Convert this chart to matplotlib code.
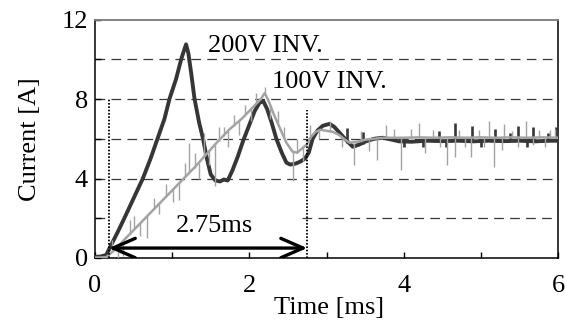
import matplotlib
matplotlib.use('Agg')
import matplotlib.pyplot as plt
from matplotlib.patches import FancyArrowPatch

plt.rcParams['font.family'] = ['Liberation Serif', 'DejaVu Serif']
plt.rcParams['lines.scale_dashes'] = False

# ---------------- data ----------------
x_ticks = [0, 1, 2, 3, 4, 5, 6]
x_tick_labels = ['0', '', '2', '', '4', '', '6']
y_ticks = [0, 2, 4, 6, 8, 10, 12]
y_tick_labels = ['0', '', '4', '', '8', '', '12']
grid_y = [2, 4, 6, 8, 10]

# 200V inverter current (dark trace)
t_200 = [0.00, 0.08, 0.145, 0.20, 0.30, 0.38, 0.50, 0.62, 0.72, 0.81, 0.90, 0.965,
         1.05, 1.117, 1.15, 1.18, 1.21, 1.25, 1.29, 1.35, 1.40, 1.45, 1.50, 1.56,
         1.62, 1.67, 1.72, 1.78, 1.85, 1.92, 2.00, 2.07, 2.13, 2.18, 2.23, 2.29,
         2.35, 2.42, 2.48, 2.53, 2.60, 2.66, 2.72, 2.77, 2.82, 2.88, 2.95, 3.04,
         3.10, 3.17, 3.25, 3.34, 3.42, 3.51, 3.62, 3.73, 3.85, 3.94, 4.10, 4.30,
         4.50, 4.70, 4.90, 5.10, 5.30, 5.50, 5.70, 5.90, 6.00]
i_200 = [0.05, 0.08, 0.15, 0.58, 1.35, 2.0, 3.0, 4.0, 5.0, 6.0, 7.0, 8.0,
         9.0, 10.0, 10.4, 10.75, 10.3, 9.2, 8.0, 6.8, 6.0, 5.0, 4.2, 3.9,
         3.85, 3.95, 3.9, 4.4, 5.1, 5.9, 6.7, 7.4, 7.8, 7.9, 7.5, 6.8,
         6.0, 5.3, 4.8, 4.7, 4.75, 4.85, 5.0, 5.3, 6.0, 6.4, 6.65, 6.75,
         6.6, 6.3, 5.95, 5.6, 5.7, 5.87, 6.0, 6.05, 5.95, 5.87, 5.85, 5.9,
         5.88, 5.9, 5.87, 5.9, 5.88, 5.9, 5.87, 5.9, 5.9]
# 200V spikes: time, base, tip
spk200_t = [3.27, 3.47, 4.00, 4.25, 4.46, 4.55, 4.67, 4.89, 5.00, 5.19, 5.38, 5.48, 5.60, 5.68, 5.87, 5.97]
spk200_b = [5.8, 5.75, 5.9, 5.9, 5.9, 5.9, 5.9, 5.9, 5.9, 5.9, 5.9, 5.9, 5.9, 5.9, 5.9, 5.9]
spk200_e = [6.55, 6.35, 5.6, 5.6, 6.37, 5.6, 6.8, 6.65, 5.6, 6.5, 6.3, 6.65, 5.6, 6.6, 6.3, 6.6]

# 100V inverter current (light trace)
t_100 = [0.00, 0.10, 0.15, 0.25, 0.40, 0.55, 0.70, 0.85, 1.00, 1.15, 1.30, 1.45,
         1.60, 1.75, 1.90, 2.05, 2.15, 2.20, 2.25, 2.32, 2.40, 2.48, 2.56, 2.62,
         2.68, 2.74, 2.80, 2.86, 2.92, 3.00, 3.08, 3.16, 3.24, 3.30, 3.40, 3.50,
         3.62, 3.73, 3.85, 4.00, 4.20, 4.40, 4.60, 4.80, 5.00, 5.20, 5.40, 5.60,
         5.80, 6.00]
i_100 = [0.02, 0.03, 0.05, 0.4, 1.0, 1.6, 2.2, 2.8, 3.4, 4.0, 4.6, 5.25,
         5.9, 6.5, 7.0, 7.6, 8.0, 8.3, 7.9, 7.2, 6.5, 5.8, 5.35, 5.3,
         5.5, 5.7, 6.1, 6.35, 6.45, 6.4, 6.35, 6.2, 5.95, 5.8, 5.85, 5.95,
         6.0, 6.05, 6.05, 6.05, 6.07, 6.05, 6.07, 6.05, 6.07, 6.05, 6.07, 6.05,
         6.07, 6.05]
# 100V spikes: time, base, tip
spk100_t = [0.22, 0.30, 0.36, 0.45, 0.51, 0.58, 0.68, 0.76, 0.83, 0.92, 1.01, 1.09,
            1.17, 1.22, 1.29, 1.35, 1.41, 1.48, 1.55, 1.61, 1.67, 1.73, 1.80, 1.87,
            1.95, 2.02, 2.09, 2.20, 2.27, 2.37, 2.45, 2.56, 2.62, 2.70, 2.78, 2.90,
            3.05, 3.20, 3.36, 3.45, 3.55, 3.66, 3.77, 3.88, 3.97, 4.10, 4.20, 4.27,
            4.38, 4.47, 4.56, 4.67, 4.72, 4.80, 4.87, 4.97, 5.04, 5.10, 5.17, 5.27,
            5.30, 5.40, 5.48, 5.59, 5.68, 5.76, 5.83, 5.89, 5.96]
spk100_b = [0.3, 0.6, 0.85, 1.2, 1.45, 1.75, 2.15, 2.45, 2.75, 3.1, 3.45, 3.75,
            4.1, 4.3, 4.55, 4.8, 5.1, 5.4, 5.7, 5.9, 6.15, 6.4, 6.65, 6.9,
            7.2, 7.5, 7.8, 8.3, 7.7, 6.8, 6.0, 5.35, 5.3, 5.6, 6.0, 6.45,
            6.35, 6.1, 5.8, 5.85, 5.95, 6.0, 6.05, 6.05, 6.05, 6.05, 6.05, 6.05,
            6.05, 6.05, 6.05, 6.05, 6.05, 6.05, 6.05, 6.05, 6.05, 6.05, 6.05, 6.05,
            6.05, 6.05, 6.05, 6.05, 6.05, 6.05, 6.05, 6.05, 6.05]
spk100_e = [0.9, 0.0, 0.1, 1.9, 2.1, 1.1, 1.0, 3.0, 2.2, 3.7, 2.8, 2.9,
            4.8, 5.8, 5.3, 4.0, 6.3, 4.7, 3.6, 6.6, 6.6, 5.6, 7.2, 6.2,
            7.7, 6.9, 8.3, 8.6, 7.0, 7.4, 6.6, 3.85, 6.0, 4.9, 6.7, 6.0,
            6.9, 5.6, 4.7, 6.4, 5.4, 4.94, 6.7, 6.5, 4.44, 6.5, 6.8, 5.3,
            6.45, 5.6, 4.7, 5.1, 6.45, 5.6, 5.1, 6.45, 5.6, 6.9, 4.6, 5.45,
            6.75, 6.4, 5.6, 6.87, 5.7, 6.45, 5.6, 6.45, 6.5]

# annotation values
t_start = 0.18
t_end = 2.75
marker_top_start = 8.0
marker_top_end = 7.46
arrow_y = 0.5

# ---------------- figure ----------------
fig = plt.figure(figsize=(5.65, 3.2), dpi=100)
ax = fig.add_axes([95 / 565, 1 - 258 / 320, 463 / 565, 238.5 / 320])
ax.set_xlim(0, 6)
ax.set_ylim(0, 12)

dash = (0, (7.0, 4.5))
gcol = '#383838'
for gy in grid_y:
    if gy == 2:
        ax.hlines(gy, 0, 0.16, colors=gcol, linestyles=dash, lw=0.9, zorder=1)
        ax.hlines(gy, 2.68, 6, colors=gcol, linestyles=dash, lw=0.9, zorder=1)
    else:
        ax.hlines(gy, 0, 6, colors=gcol, linestyles=dash, lw=0.9, zorder=1)

dark = '#363636'
light = '#a3a3a3'
ax.plot(t_200, i_200, color=dark, lw=2.8, zorder=3, solid_joinstyle='round')
ax.vlines(spk200_t, spk200_b, spk200_e, colors=dark, lw=1.9, zorder=3)
ax.plot(t_100, i_100, color=light, lw=1.8, zorder=4, solid_joinstyle='round')
ax.vlines(spk100_t, spk100_b, spk100_e, colors=light, lw=1.0, zorder=4)

ax.vlines([t_start], 0, marker_top_start, colors='black', linestyles=(0, (1.2, 1.2)), lw=1.3, zorder=5)
ax.vlines([t_end], 0, marker_top_end, colors='black', linestyles=(0, (1.2, 1.2)), lw=1.3, zorder=5)

arr = FancyArrowPatch((t_start, arrow_y), (t_end, arrow_y),
                      arrowstyle='<->,head_length=0.8,head_width=0.35',
                      mutation_scale=20, lw=2.4, color='black',
                      shrinkA=0, shrinkB=0, zorder=6)
ax.add_patch(arr)

fs = 19
ax.text(1.55, 1.33, '2.75ms', fontsize=fs, ha='center', va='baseline', zorder=7)
ax.text(1.46, 10.34, '200V INV.', fontsize=fs, ha='left', va='baseline', zorder=7)
ax.text(2.30, 8.56, '100V INV.', fontsize=fs, ha='left', va='baseline', zorder=7)

ax.set_xticks(x_ticks)
ax.set_xticklabels(x_tick_labels)
ax.set_yticks(y_ticks)
ax.set_yticklabels(y_tick_labels)
ax.tick_params(axis='x', direction='in', length=4, width=1, labelsize=fs, pad=12)
ax.tick_params(axis='y', direction='in', length=4, width=1, labelsize=fs, pad=5)

ax.set_xlabel('Time [ms]', fontsize=fs)
ax.set_ylabel('Current [A]', fontsize=fs)
ax.xaxis.set_label_coords(0.505, -0.165)
ax.yaxis.set_label_coords(-0.117, 0.5)

for s in ['left', 'bottom', 'right']:
    ax.spines[s].set_color('black')
    ax.spines[s].set_linewidth(1.1)
ax.spines['top'].set_color('#7a7a7a')
ax.spines['top'].set_linewidth(1.3)

fig.savefig('out.png', dpi=100)
